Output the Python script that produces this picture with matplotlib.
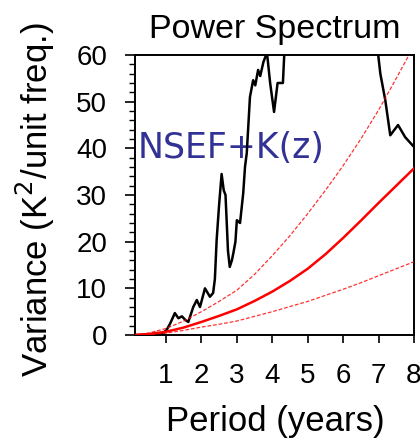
import numpy as np
from matplotlib import pyplot as plt
from matplotlib.ticker import MultipleLocator

# period (years) and variance
period_obs = [0.125, 0.5, 0.9, 1.02, 1.12, 1.25, 1.35, 1.45, 1.55, 1.63, 1.77, 1.87,
              1.96, 2.1, 2.24, 2.33, 2.38, 2.43, 2.5, 2.57, 2.63, 2.68, 2.75, 2.8,
              2.86, 2.9, 2.96, 3.0, 3.09, 3.18, 3.23, 3.28, 3.37, 3.46, 3.52, 3.6,
              3.66, 3.75, 3.85, 3.94, 4.05, 4.15, 4.3, 4.35, 4.6, 5.0, 5.5, 6.0,
              6.5, 6.9, 6.99, 7.05, 7.19, 7.33, 7.55, 7.75, 8.0]
var_obs = [0.0, 0.1, 0.3, 1.1, 2.5, 4.7, 3.6, 4.0, 3.2, 2.8, 6.0, 7.5,
           6.0, 10.0, 8.2, 9.0, 12.0, 20.4, 28.0, 34.5, 31.0, 30.0, 18.0, 14.6,
           16.0, 17.5, 20.0, 24.6, 24.0, 30.4, 36.0, 39.0, 51.0, 54.6, 53.5, 56.8,
           55.5, 58.5, 60.5, 54.0, 47.8, 54.0, 54.0, 62.0, 75.0, 90.0, 100.0, 95.0,
           80.0, 64.0, 60.0, 56.0, 50.3, 42.8, 45.0, 42.4, 40.3]

period_red = [0.125, 0.5, 1.0, 1.5, 2.0, 2.5, 3.0, 3.5, 4.0, 4.5, 5.0, 5.5,
              6.0, 6.5, 7.0, 7.5, 8.0]
red_mean = [0.0, 0.2, 0.7, 1.6, 2.8, 4.1, 5.5, 7.3, 9.3, 11.6, 14.2, 17.3,
            20.8, 24.5, 28.3, 32.0, 35.7]
red_upper = [0.0, 0.4, 1.4, 3.0, 5.0, 7.2, 9.6, 13.0, 17.0, 21.3, 26.0, 31.0,
             36.3, 42.0, 48.2, 55.0, 62.0]
red_lower = [0.0, 0.1, 0.4, 1.0, 1.7, 2.3, 3.0, 4.0, 5.0, 6.1, 7.2, 8.5,
             9.8, 11.2, 12.7, 14.2, 15.7]

plt.rcParams['font.family'] = ['Liberation Sans', 'DejaVu Sans']

fig = plt.figure(figsize=(4.2, 4.4), dpi=100)
ax = fig.add_axes([0.3214, 0.2386, 0.6643, 0.6364])

ax.plot(period_obs, var_obs, color='black', lw=1.8, zorder=3)
ax.plot(period_red, red_mean, color='red', lw=1.8, zorder=4)
ax.plot(period_red, red_upper, color='red', lw=0.9, ls=(0, (3, 1.5)), alpha=0.8, zorder=4)
ax.plot(period_red, red_lower, color='red', lw=0.9, ls=(0, (3, 1.5)), alpha=0.8, zorder=4)

ax.set_xlim(0.125, 8)
ax.set_ylim(0, 60)
ax.set_xticks(range(1, 9))
ax.yaxis.set_major_locator(MultipleLocator(10))
ax.yaxis.set_minor_locator(MultipleLocator(2))

ax.tick_params(axis='x', direction='out', length=6, width=1.2, pad=14, labelsize=20)
ax.tick_params(axis='y', which='major', direction='out', length=7, width=1.2, pad=13, labelsize=20)
ax.tick_params(axis='y', which='minor', direction='out', length=4.5, width=1.0)
for s in ax.spines.values():
    s.set_linewidth(1.4)

ax.set_title('Power Spectrum', fontsize=24.5, pad=12)
ax.set_xlabel('Period (years)', fontsize=25)
ax.set_ylabel('Variance (K$^2$/unit freq.)', fontsize=25)
ax.xaxis.set_label_coords(0.502, -0.25)
ax.yaxis.set_label_coords(-0.28, 0.482)

ax.text(0.011, 0.632, 'NSEF+K(z)', transform=ax.transAxes, fontsize=25,
        color='#323296', family='DejaVu Sans', va='baseline', ha='left', zorder=2)

fig.savefig('out.png', dpi=100)
